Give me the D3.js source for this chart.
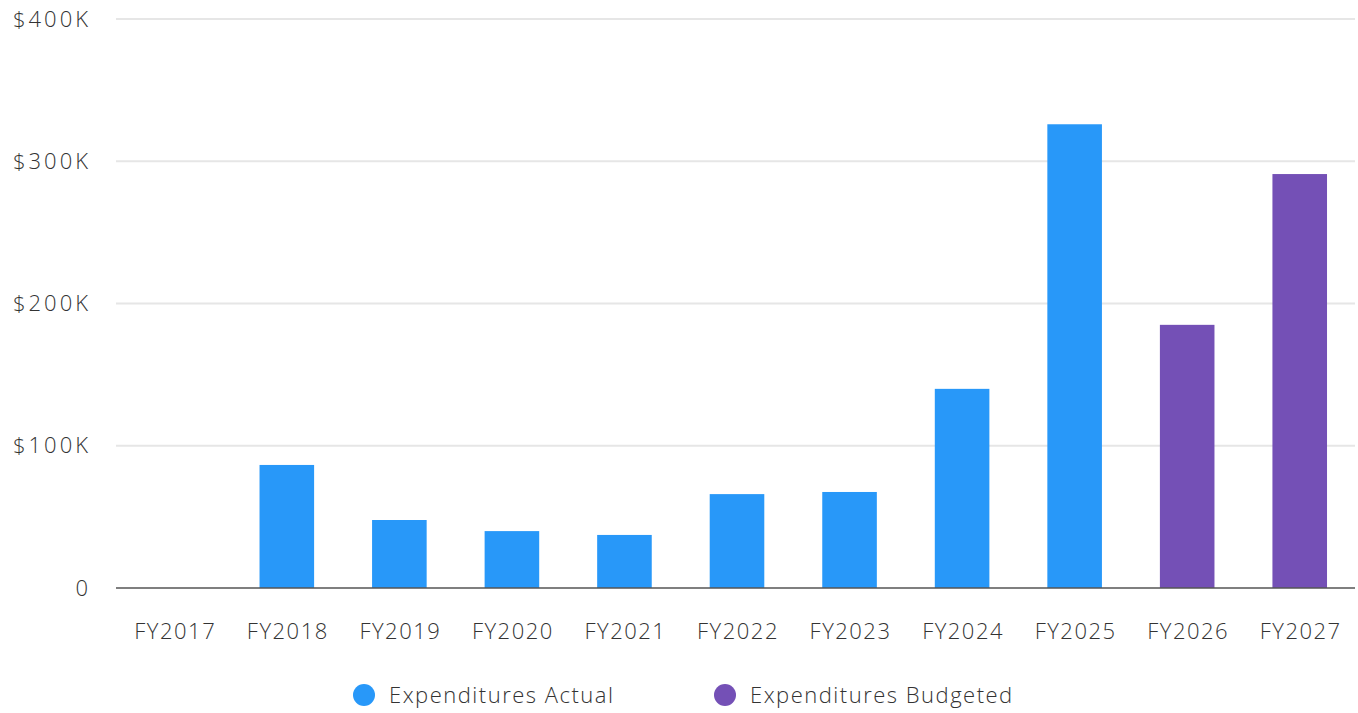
<!DOCTYPE html>
<html lang="en">
<head>
<meta charset="utf-8">
<style>
body { margin: 0; background: #fff; font-family: "Open Sans", sans-serif; }
text { fill: #333; font-size: 22px; font-weight: 300; letter-spacing: 1.5px; }
text.ylab { letter-spacing: 3px; }
</style>
<title>Expenditures</title>
<script src="https://cdnjs.cloudflare.com/ajax/libs/d3/7.8.5/d3.min.js"></script>
</head>
<body>
<div id="chart"></div>
<script>

var years = ["FY2017","FY2018","FY2019","FY2020","FY2021","FY2022","FY2023","FY2024","FY2025","FY2026","FY2027"];
var actual = [0, 86500, 47800, 40000, 37300, 66000, 67500, 140000, 326000, null, null];
var budgeted = [null, null, null, null, null, null, null, null, null, 185000, 291000];
var yTicks = [0, 100000, 200000, 300000, 400000];
var seriesNames = ["Expenditures Actual", "Expenditures Budgeted"];
var seriesColors = ["#2898f9", "#7450b6"];

var width = 1358, height = 713;
var plotLeft = 116, plotRight = 1355, plotTop = 19, plotBottom = 588;

var svg = d3.select("#chart").append("svg")
	.attr("width", width)
	.attr("height", height);

var x = d3.scaleBand().domain(years).range([118, 1356]).paddingInner(0.515).paddingOuter(0.2575);
var y = d3.scaleLinear().domain([0, 400000]).range([plotBottom, plotTop]);

// grid
svg.append("g")
	.selectAll("line")
	.data(yTicks.filter(function(d){ return d > 0; }))
	.enter().append("line")
	.attr("x1", plotLeft).attr("x2", plotRight)
	.attr("y1", function(d){ return y(d); })
	.attr("y2", function(d){ return y(d); })
	.attr("stroke", "#e6e6e6")
	.attr("stroke-width", 2);

// y labels
svg.append("g")
	.selectAll("text")
	.data(yTicks)
	.enter().append("text")
	.attr("class", "ylab")
	.attr("x", 91)
	.attr("y", function(d){ return y(d); })
	.attr("dy", "0.35em")
	.attr("text-anchor", "end")
	.text(function(d){ return d === 0 ? "0" : "$" + (d / 1000) + "K"; });

var data = years.map(function(yr, i){
	return { year: yr, value: actual[i] != null ? actual[i] : budgeted[i], s: actual[i] != null ? 0 : 1 };
});

svg.append("g")
	.selectAll("rect")
	.data(data.filter(function(d){ return d.value > 0; }))
	.enter().append("rect")
	.attr("x", function(d){ return x(d.year); })
	.attr("width", x.bandwidth())
	.attr("y", function(d){ return y(d.value); })
	.attr("height", function(d){ return y(0) - y(d.value); })
	.attr("fill", function(d){ return seriesColors[d.s]; });

// baseline
svg.append("line")
	.attr("x1", plotLeft).attr("x2", plotRight)
	.attr("y1", y(0)).attr("y2", y(0))
	.attr("stroke", "#555")
	.attr("stroke-width", 1.5);

// x labels
svg.append("g")
	.selectAll("text")
	.data(years)
	.enter().append("text")
	.attr("x", function(d){ return x(d) + x.bandwidth() / 2 + 1; })
	.attr("y", 631)
	.attr("dy", "0.35em")
	.attr("text-anchor", "middle")
	.text(function(d){ return d; });

// legend
var legendX = [364, 725];
var legend = svg.append("g")
	.selectAll("g")
	.data(seriesNames)
	.enter().append("g")
	.attr("transform", function(d, i){ return "translate(" + legendX[i] + ",695)"; });

legend.append("circle")
	.attr("r", 11)
	.attr("fill", function(d, i){ return seriesColors[i]; });

legend.append("text")
	.attr("x", 25)
	.attr("dy", "0.35em")
	.text(function(d){ return d; });

</script>
</body>
</html>
